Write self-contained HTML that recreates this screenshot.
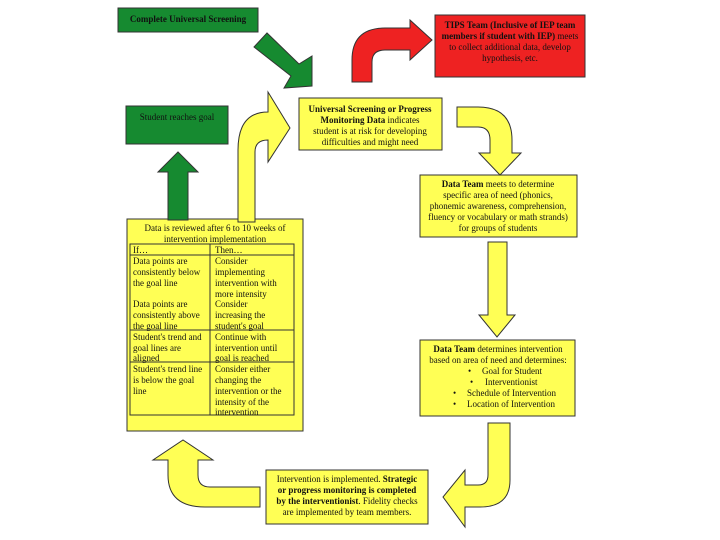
<!DOCTYPE html>
<html><head><style>
html,body{margin:0;padding:0;background:#fff;width:720px;height:540px;overflow:hidden}
svg{display:block}
text{font-family:"Liberation Serif",serif;font-size:9px;fill:#111}
.b{font-weight:bold}
</style></head><body>
<svg width="720" height="540" viewBox="0 0 720 540" xmlns="http://www.w3.org/2000/svg">
<g stroke="#333" stroke-width="1">
<rect x="118" y="8" width="140" height="24" fill="#168a30"/>
<rect x="435" y="15" width="150" height="62" fill="#ee2222"/>
<rect x="126" y="106" width="102" height="38" fill="#168a30"/>
<rect x="299" y="98" width="143" height="52" fill="#ffff55"/>
<rect x="420" y="175" width="157" height="62" fill="#ffff55"/>
<rect x="127" y="219" width="176" height="212" fill="#ffff55"/>
<rect x="420" y="340" width="155" height="76" fill="#ffff55"/>
<rect x="266" y="470" width="162" height="54" fill="#ffff55"/>
<polygon points="254,47 267,33 299,64 312,56 312,86 284,88 291,76" fill="#168a30"/>
<path d="M352,82 L352,60 Q352,28 385,28 L410,28 L410,20 L432,40 L410,60 L410,50 L385,50 Q372,50 372,62 L372,82 Z" fill="#ee2222"/>
<path d="M238,222 L238,150 Q238,112 268,112 L268,92 L290,128 L268,162 L268,140 Q255,140 255,152 L255,222 Z" fill="#ffff55"/>
<polygon points="168,220 168,172 158,172 178,152 198,172 188,172 188,220" fill="#168a30"/>
<path d="M457,107 L478,107 Q512,107 512,140 L512,153 L521,153 L500,175 L479,153 L490,153 L490,140 Q490,127 478,127 L457,127 Z" fill="#ffff55"/>
<polygon points="488,242 507,242 507,315 515,315 497,337 479,315 488,315" fill="#ffff55"/>
<path d="M488,423 L510,423 L510,480 Q510,507 480,507 L465,507 L465,527 L443,497 L465,470 L465,485 L478,485 Q488,485 488,475 Z" fill="#ffff55"/>
<path d="M260,487 L210,487 Q198,487 198,475 L198,460 L213,460 L183,440 L153,460 L168,460 L168,475 Q168,507 205,507 L260,507 Z" fill="#ffff55"/>
<rect x="130" y="244" width="164" height="171" fill="none"/>
<line x1="210" y1="244" x2="210" y2="415"/>
<line x1="130" y1="255" x2="294" y2="255"/>
<line x1="130" y1="330" x2="294" y2="330"/>
<line x1="130" y1="362" x2="294" y2="362"/>
</g>
<text class="b" x="188" y="22" text-anchor="middle">Complete Universal Screening</text>
<g text-anchor="middle">
<text x="510" y="28" class="b">TIPS Team (Inclusive of IEP team</text>
<text x="510" y="39"><tspan class="b">members if student with IEP)</tspan> meets</text>
<text x="510" y="50">to collect additional data, develop</text>
<text x="510" y="61">hypothesis, etc.</text>
<text x="177" y="120">Student reaches goal</text>
<text x="370" y="112" class="b">Universal Screening or Progress</text>
<text x="370" y="123"><tspan class="b">Monitoring Data</tspan> indicates</text>
<text x="370" y="134">student is at risk for developing</text>
<text x="370" y="145">difficulties and might need</text>
<text x="498" y="187"><tspan class="b">Data Team</tspan> meets to determine</text>
<text x="498" y="198">specific area of need (phonics,</text>
<text x="498" y="209">phonemic awareness, comprehension,</text>
<text x="498" y="220">fluency or vocabulary or math strands)</text>
<text x="498" y="231">for groups of students</text>
<text x="215" y="231">Data is reviewed after 6 to 10 weeks of</text>
<text x="215" y="242">intervention implementation</text>
<text x="498" y="352"><tspan class="b">Data Team</tspan> determines intervention</text>
<text x="498" y="363">based on area of need and determines:</text>
<text x="347" y="482">Intervention is implemented.  <tspan class="b">Strategic</tspan></text>
<text x="347" y="493" class="b">or progress monitoring is completed</text>
<text x="347" y="504"><tspan class="b">by the interventionist</tspan>.  Fidelity checks</text>
<text x="347" y="515">are implemented by team members.</text>
</g>
<text x="468" y="374">•</text><text x="482" y="374">Goal for Student</text>
<text x="470" y="385">•</text><text x="485" y="385">Interventionist</text>
<text x="453" y="396">•</text><text x="467" y="396">Schedule of Intervention</text>
<text x="453" y="407">•</text><text x="467" y="407">Location of Intervention</text>
<g>
<text x="133" y="253">If…</text><text x="215" y="253">Then…</text>
<text x="133" y="264">Data points are</text><text x="133" y="275">consistently below</text><text x="133" y="286">the goal line</text>
<text x="215" y="264">Consider</text><text x="215" y="275">implementing</text><text x="215" y="286">intervention with</text><text x="215" y="297">more intensity</text>
<text x="133" y="307">Data points are</text><text x="133" y="318">consistently above</text><text x="133" y="329">the goal line</text>
<text x="215" y="307">Consider</text><text x="215" y="318">increasing the</text><text x="215" y="329">student's goal</text>
<text x="133" y="340">Student's trend and</text><text x="133" y="351">goal lines are</text><text x="133" y="361">aligned</text>
<text x="215" y="340">Continue with</text><text x="215" y="351">intervention until</text><text x="215" y="361">goal is reached</text>
<text x="133" y="372">Student's trend line</text><text x="133" y="383">is below the goal</text><text x="133" y="394">line</text>
<text x="215" y="372">Consider either</text><text x="215" y="383">changing the</text><text x="215" y="394">intervention or the</text><text x="215" y="405">intensity of the</text><text x="215" y="415">intervention</text>
</g>
</svg>
</body></html>
